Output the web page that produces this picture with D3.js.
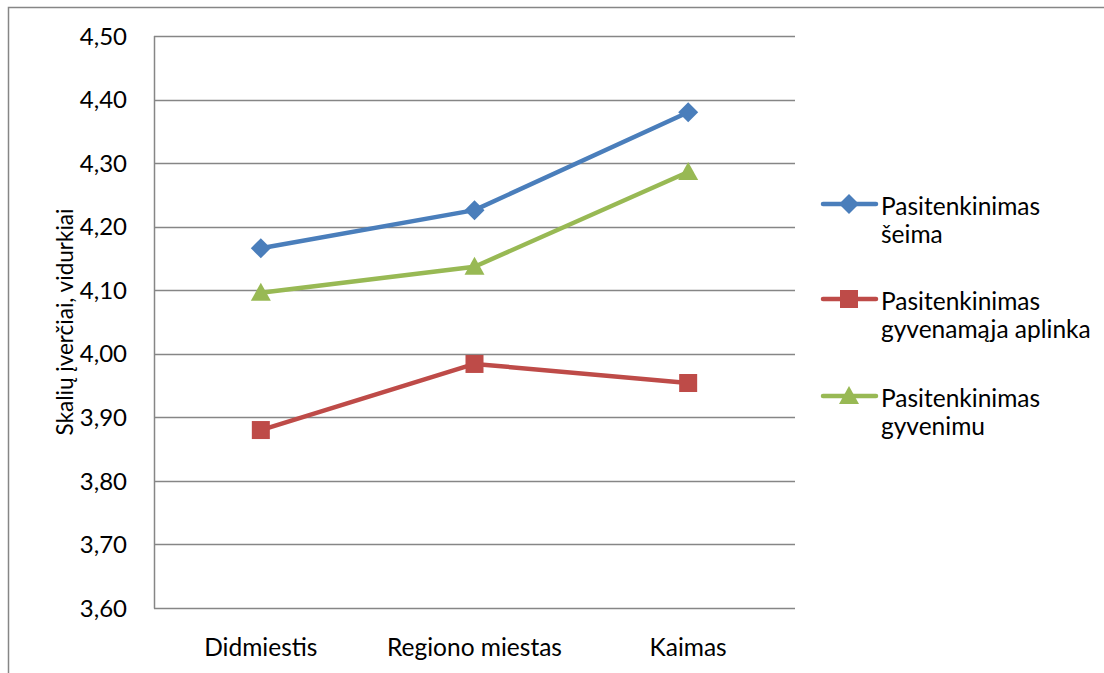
<!DOCTYPE html>
<html><head><meta charset="utf-8">
<script src="https://cdn.jsdelivr.net/npm/d3@7"></script>
<style>body{margin:0;background:#fff}svg{display:block;font-family:Lato,"Liberation Sans",sans-serif}</style>
</head><body><svg id="c" width="1104" height="673"></svg>
<script>
const categories = ["Didmiestis", "Regiono miestas", "Kaimas"];
const seriesNames = [["Pasitenkinimas", "šeima"], ["Pasitenkinimas", "gyvenamąja aplinka"], ["Pasitenkinimas", "gyvenimu"]];
const seima = [4.166, 4.226, 4.380];
const aplinka = [3.880, 3.984, 3.954];
const gyvenimu = [4.096, 4.137, 4.286];
const yTicks = [3.6, 3.7, 3.8, 3.9, 4.0, 4.1, 4.2, 4.3, 4.4, 4.5];
const yTitle = "Skalių įverčiai, vidurkiai";

const colors = ["#4A7EBB", "#BE4B48", "#98B954"];
const shapes = ["diamond", "square", "triangle"];
const series = [seima, aplinka, gyvenimu];

const svg = d3.select("#c");
svg.append("rect").attr("x", 8.5).attr("y", 7.5).attr("width", 1200).attr("height", 800)
  .attr("fill", "none").attr("stroke", "#868686").attr("stroke-width", 1.5);

const L = 154, R = 795, T = 36, B = 608;
const x = d3.scalePoint().domain(categories).range([L, R]).padding(0.5);
const y = d3.scaleLinear().domain([3.6, 4.5]).range([B, T]);

const g = svg.append("g");
g.selectAll("line.grid").data(yTicks).join("line")
  .attr("x1", L).attr("x2", R).attr("y1", d => Math.round(y(d)) + 0.5).attr("y2", d => Math.round(y(d)) + 0.5)
  .attr("stroke", "#868686").attr("stroke-width", 1.5);
g.append("line").attr("x1", L + 0.5).attr("x2", L + 0.5).attr("y1", T).attr("y2", B + 0.5)
  .attr("stroke", "#868686").attr("stroke-width", 1.5);

const fmt = d => d.toFixed(2).replace(".", ",");
g.selectAll("text.yt").data(yTicks).join("text")
  .attr("x", 127).attr("y", d => y(d)).attr("dy", "0.36em").attr("text-anchor", "end")
  .attr("font-size", 24).attr("fill", "#000").text(fmt);

g.selectAll("text.xt").data(categories).join("text")
  .attr("x", d => x(d)).attr("y", 656).attr("text-anchor", "middle")
  .attr("font-size", 24.5).attr("fill", "#000").text(d => d);

svg.append("text").attr("transform", "translate(65,322) rotate(-90)")
  .attr("text-anchor", "middle").attr("dy", "0.36em").attr("font-size", 22.5).text(yTitle);

function marker(sel, shape, color) {
  if (shape === "diamond") sel.append("path").attr("d", "M0,-10L10,0L0,10L-10,0Z").attr("fill", color);
  else if (shape === "square") sel.append("rect").attr("x", -9).attr("y", -9).attr("width", 18).attr("height", 18).attr("fill", color);
  else sel.append("path").attr("d", "M0,-10L10,8L-10,8Z").attr("fill", color);
}

const line = d3.line().x((d, i) => x(categories[i])).y(d => y(d));
series.forEach((s, k) => {
  g.append("path").attr("d", line(s)).attr("fill", "none").attr("stroke", colors[k])
    .attr("stroke-width", 4.5).attr("stroke-linejoin", "round").attr("stroke-linecap", "round");
  s.forEach((v, i) => {
    const m = g.append("g").attr("transform", `translate(${x(categories[i])},${y(v)})`);
    marker(m, shapes[k], colors[k]);
  });
});

const legY = [204, 299, 396];
seriesNames.forEach((nm, k) => {
  const lg = svg.append("g").attr("transform", `translate(0,${legY[k]})`);
  lg.append("line").attr("x1", 823).attr("x2", 876).attr("y1", 0).attr("y2", 0)
    .attr("stroke", colors[k]).attr("stroke-width", 4.5).attr("stroke-linecap", "round");
  const m = lg.append("g").attr("transform", "translate(849,0)");
  marker(m, shapes[k], colors[k]);
  nm.forEach((t, j) => lg.append("text").attr("x", 881).attr("y", 11 + j * 28)
    .attr("font-size", 24.5).text(t));
});
</script></body></html>
